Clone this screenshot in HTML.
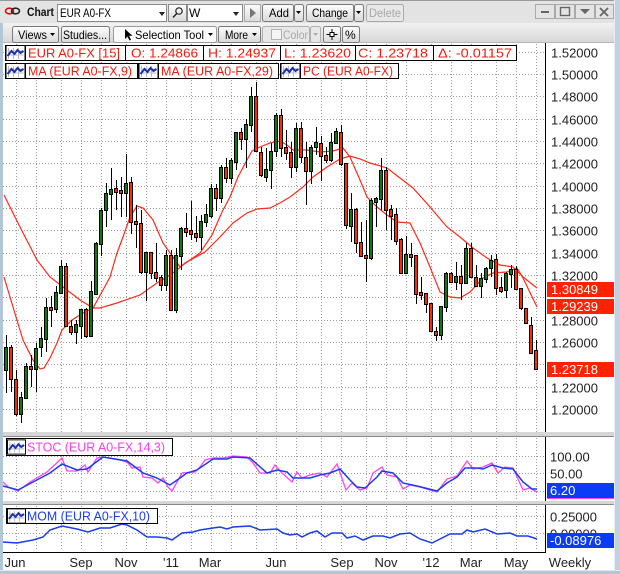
<!DOCTYPE html>
<html><head><meta charset="utf-8"><style>
html,body{margin:0;padding:0;background:#fff;}
svg{display:block;font-family:"Liberation Sans",sans-serif;}
</style></head><body>
<svg width="620" height="574" viewBox="0 0 620 574" xmlns="http://www.w3.org/2000/svg">
<defs>
<linearGradient id="btn" x1="0" y1="0" x2="0" y2="1"><stop offset="0" stop-color="#fdfdfd"/><stop offset="1" stop-color="#d9d9d9"/></linearGradient>
<linearGradient id="tb2" x1="0" y1="0" x2="0" y2="1"><stop offset="0" stop-color="#f2f2f2"/><stop offset="1" stop-color="#d6d6d6"/></linearGradient>
<symbol id="ico" viewBox="0 0 20 16"><rect x="0.5" y="0.5" width="19" height="15" fill="#fff" stroke="#000"/><path d="M3 3V14M8 3V14M13 3V14M2 6H18M2 10H18" stroke="#bbb" stroke-width="1"/><path d="M2 11L6 6L9 9L12 5L15 8L18 6" fill="none" stroke="#1a2fb0" stroke-width="2"/></symbol>
</defs>
<!-- window background -->
<rect x="0" y="0" width="620" height="574" fill="#fff"/>
<rect x="0" y="0" width="620" height="23" fill="#e3e3e3"/>
<rect x="0" y="23" width="620" height="20" fill="url(#tb2)"/>
<line x1="0" y1="0.5" x2="620" y2="0.5" stroke="#9a9a9a"/>
<line x1="0" y1="42.5" x2="620" y2="42.5" stroke="#b8b8b8"/>
<!-- toolbar row 1 -->
<g>
<ellipse cx="9.5" cy="11" rx="4" ry="2.8" fill="none" stroke="#d01010" stroke-width="1.6"/>
<ellipse cx="15.5" cy="11" rx="4" ry="2.8" fill="none" stroke="#222" stroke-width="1.6"/>
<text x="27" y="16" font-size="12" font-weight="bold" fill="#111" textLength="27" lengthAdjust="spacingAndGlyphs">Chart</text>
<rect x="57.5" y="4.5" width="109" height="17" fill="#fff" stroke="#8a8a8a"/>
<text x="60" y="17" font-size="12" fill="#000" textLength="51" lengthAdjust="spacingAndGlyphs">EUR A0-FX</text>
<path d="M159 12h6l-3 4z" fill="#222"/>
<rect x="168.5" y="4.5" width="18" height="17" fill="url(#btn)" stroke="#8a8a8a"/>
<circle cx="179" cy="11" r="3.2" fill="none" stroke="#222" stroke-width="1.2"/><line x1="176.7" y1="13.5" x2="173" y2="17.5" stroke="#222" stroke-width="1.4"/>
<rect x="187.5" y="4.5" width="55" height="17" fill="#fff" stroke="#8a8a8a"/>
<text x="189" y="17" font-size="12" fill="#000">W</text>
<path d="M233 12h6l-3 4z" fill="#222"/>
<rect x="244.5" y="4.5" width="16" height="17" fill="url(#btn)" stroke="#aaa"/>
<path d="M250 8v10l6-5z" fill="#777"/>
<rect x="262.5" y="4.5" width="31" height="17" rx="2" fill="url(#btn)" stroke="#7a7a7a"/>
<text x="269" y="17" font-size="12" fill="#000" textLength="20" lengthAdjust="spacingAndGlyphs">Add</text>
<rect x="294.5" y="4.5" width="9" height="17" rx="2" fill="url(#btn)" stroke="#7a7a7a"/>
<path d="M296 11h5l-2.5 3z" fill="#000"/>
<rect x="306.5" y="4.5" width="47" height="17" rx="2" fill="url(#btn)" stroke="#7a7a7a"/>
<text x="312" y="17" font-size="12" fill="#000" textLength="36" lengthAdjust="spacingAndGlyphs">Change</text>
<rect x="354.5" y="4.5" width="9" height="17" rx="2" fill="url(#btn)" stroke="#7a7a7a"/>
<path d="M356 11h5l-2.5 3z" fill="#000"/>
<rect x="366.5" y="4.5" width="37" height="17" rx="2" fill="#e8e8e8" stroke="#aaa"/>
<text x="369" y="17" font-size="12" fill="#a8a8a8" textLength="32" lengthAdjust="spacingAndGlyphs">Delete</text>
<rect x="535.5" y="4.5" width="19" height="14" fill="#e4e4e4" stroke="#aaa"/><rect x="541" y="11" width="8" height="2" fill="#666"/>
<rect x="555.5" y="4.5" width="19" height="14" fill="#e4e4e4" stroke="#aaa"/><rect x="560.5" y="7.5" width="9" height="8" fill="none" stroke="#666" stroke-width="1.4"/>
<rect x="575.5" y="4.5" width="19" height="14" fill="#e4e4e4" stroke="#aaa"/><path d="M580 9h10l-5 5z" fill="#666"/>
<rect x="595.5" y="4.5" width="18" height="14" fill="#e4e4e4" stroke="#aaa"/><path d="M600 8l8 8M608 8l-8 8" stroke="#666" stroke-width="1.8"/>
</g>
<!-- toolbar row 2 -->
<g font-size="12">
<rect x="12.5" y="26.5" width="46" height="16" rx="2" fill="url(#btn)" stroke="#7a7a7a"/>
<text x="18" y="39" fill="#000" textLength="29" lengthAdjust="spacingAndGlyphs">Views</text><path d="M50 33h5l-2.5 3z" fill="#000"/>
<rect x="61.5" y="26.5" width="48" height="16" rx="2" fill="url(#btn)" stroke="#7a7a7a"/>
<text x="63" y="39" fill="#000" textLength="44" lengthAdjust="spacingAndGlyphs">Studies...</text>
<rect x="113.5" y="26.5" width="103" height="16" rx="2" fill="#fafafa" stroke="#9a9a9a"/>
<path d="M125 29v10l2.5-2.5 2 4 1.5-.7-2-4h3.5z" fill="#000"/>
<text x="135" y="39" fill="#000" textLength="69" lengthAdjust="spacingAndGlyphs">Selection Tool</text><path d="M208 33h5l-2.5 3z" fill="#000"/>
<rect x="218.5" y="26.5" width="42" height="16" rx="2" fill="url(#btn)" stroke="#7a7a7a"/>
<text x="225" y="39" fill="#000" textLength="23" lengthAdjust="spacingAndGlyphs">More</text><path d="M252 33h5l-2.5 3z" fill="#000"/>
<rect x="262.5" y="26.5" width="47" height="16" rx="2" fill="#e8e8e8" stroke="#b0b0b0"/>
<rect x="271.5" y="29.5" width="10" height="10" fill="#f4f4f4" stroke="#b0b0b0"/>
<text x="283" y="39" fill="#a8a8a8" textLength="25" lengthAdjust="spacingAndGlyphs">Color</text>
<rect x="310.5" y="26.5" width="10" height="16" rx="2" fill="#e8e8e8" stroke="#b0b0b0"/><path d="M313 33h5l-2.5 3z" fill="#aaa"/>
<rect x="323.5" y="26.5" width="17" height="16" rx="2" fill="url(#btn)" stroke="#7a7a7a"/>
<path d="M332 29v11M326.5 34.5h11" stroke="#000" stroke-width="1"/><rect x="330" y="32.5" width="4" height="4" fill="#fff" stroke="#000"/>
<rect x="342.5" y="26.5" width="17" height="16" rx="2" fill="url(#btn)" stroke="#7a7a7a"/>
<text x="345" y="39" fill="#000">%</text>
</g>
<!-- main chart gridlines -->
<g stroke="#9c9c9c" stroke-width="1" stroke-dasharray="1 2" fill="none">
<path d="M3 409.5H545M3 387.5H545M3 364.5H545M3 342.5H545M3 320.5H545M3 297.5H545M3 275.5H545M3 253.5H545M3 230.5H545M3 208.5H545M3 186.5H545M3 163.5H545M3 141.5H545M3 119.5H545M3 96.5H545M3 74.5H545M3 52.5H545"/>
<path d="M16.5 44V432M36.5 44V432M61.5 44V432M81.5 44V432M101.5 44V432M126.5 44V432M146.5 44V432M166.5 44V432M191.5 44V432M211.5 44V432M231.5 44V432M256.5 44V432M276.5 44V432M296.5 44V432M321.5 44V432M341.5 44V432M366.5 44V432M386.5 44V432M406.5 44V432M431.5 44V432M451.5 44V432M471.5 44V432M496.5 44V432M516.5 44V432M536.5 44V432"/>
<path d="M3 456.5H545M3 473.5H545M3 491.5H545M3 516.5H545M3 533.5H545"/>
<path d="M16.5 438V502M36.5 438V502M61.5 438V502M81.5 438V502M101.5 438V502M126.5 438V502M146.5 438V502M166.5 438V502M191.5 438V502M211.5 438V502M231.5 438V502M256.5 438V502M276.5 438V502M296.5 438V502M321.5 438V502M341.5 438V502M366.5 438V502M386.5 438V502M406.5 438V502M431.5 438V502M451.5 438V502M471.5 438V502M496.5 438V502M516.5 438V502M536.5 438V502"/>
<path d="M16.5 506V551M36.5 506V551M61.5 506V551M81.5 506V551M101.5 506V551M126.5 506V551M146.5 506V551M166.5 506V551M191.5 506V551M211.5 506V551M231.5 506V551M256.5 506V551M276.5 506V551M296.5 506V551M321.5 506V551M341.5 506V551M366.5 506V551M386.5 506V551M406.5 506V551M431.5 506V551M451.5 506V551M471.5 506V551M496.5 506V551M516.5 506V551M536.5 506V551"/>
</g>
<!-- MA lines -->
<polyline fill="none" stroke="#ff2a1a" stroke-width="1.2" points="4,195 20,227 37,260 50,277 67,290 80,300 93,308 100,308 117,303 140,295 157,283 167,277 177,270 185,263 205,252 220,237 233,223 247,213 257,209 270,208 280,203 290,197 303,187 313,177 327,167 340,159 350,156 360,159 370,163 387,168 400,178 413,188 430,207 447,227 460,237 473,248 487,258 500,265 513,267 523,277 537,288"/>
<polyline fill="none" stroke="#ff2a1a" stroke-width="1.2" points="4,277 13,307 23,340 33,360 40,369 44,368 50,358 57,343 62,330 72,320 83,313 93,308 103,290 110,277 117,253 123,237 130,217 137,206 143,208 153,220 163,243 173,257 180,267 200,253 212,235 222,212 230,197 238,177 247,160 252,151 260,147 270,143 280,141 287,145 293,150 307,150 320,152 333,151 343,148 350,157 360,180 367,197 377,207 387,215 397,222 410,223 420,243 430,267 440,292 450,297 460,298 470,292 483,278 493,273 507,272 517,268 523,278 537,307"/>
<!-- wicks -->
<path stroke="#000" stroke-width="1" fill="none" d="M6.5 335V393M11.5 345V392M16.5 370V416M21.5 392V423M26.5 363V398M31.5 355V387M36.5 343V392M41.5 327V357M46.5 298V352M51.5 296V327M56.5 286V313M61.5 260V293M66.5 263V327M71.5 320V335M76.5 320V344M81.5 309V339M86.5 308V338M91.5 281V336M96.5 242V294M101.5 208V256M106.5 183V227M111.5 168V220M116.5 180V210M121.5 177V217M126.5 154V217M131.5 177V234M136.5 205V248M141.5 210V274M146.5 252V301M151.5 252V279M156.5 243V282M161.5 275V291M166.5 250V291M171.5 250V310M176.5 248V313M181.5 227V270M186.5 213V237M191.5 201V240M196.5 216V242M201.5 215V250M206.5 204V227M211.5 184V218M216.5 184V211M221.5 165V203M226.5 158V183M231.5 158V184M236.5 132V170M241.5 128V150M246.5 119V168M251.5 87V132M256.5 82V152M261.5 147V177M266.5 148V182M271.5 143V189M276.5 113V157M281.5 109V157M286.5 130V160M291.5 142V178M296.5 123V172M301.5 122V163M306.5 142V205M311.5 145V184M316.5 127V155M321.5 136V181M326.5 147V163M331.5 133V162M336.5 128V144M341.5 125V166M346.5 163V229M351.5 193V242M356.5 208V253M361.5 222V257M366.5 220V282M371.5 198V260M376.5 197V227M381.5 158V210M386.5 167V230M391.5 205V240M396.5 208V245M401.5 238V274M406.5 236V273M411.5 243V267M416.5 255V304M421.5 277V300M426.5 293V313M431.5 303V332M436.5 327V341M441.5 306V340M446.5 272V312M451.5 272V283M456.5 262V290M461.5 265V300M466.5 243V283M471.5 243V278M476.5 265V287M481.5 273V298M486.5 267V283M491.5 255V277M496.5 254V295M501.5 277V293M506.5 272V298M511.5 265V288M516.5 266V290M521.5 288V310M526.5 308V324M531.5 317V354M536.5 340V370"/>
<!-- green bodies -->
<g fill="#0c7c0c" stroke="#000" stroke-width="1">
<rect x="4.5" y="347.5" width="3" height="23"/>
<rect x="19.5" y="397.5" width="3" height="17"/>
<rect x="24.5" y="366.5" width="3" height="32"/>
<rect x="34.5" y="348.5" width="3" height="21"/>
<rect x="39.5" y="338.5" width="3" height="9"/>
<rect x="44.5" y="307.5" width="3" height="32"/>
<rect x="54.5" y="292.5" width="3" height="17"/>
<rect x="59.5" y="266.5" width="3" height="27"/>
<rect x="74.5" y="324.5" width="3" height="8"/>
<rect x="79.5" y="309.5" width="3" height="17"/>
<rect x="89.5" y="291.5" width="3" height="45"/>
<rect x="94.5" y="243.5" width="3" height="51"/>
<rect x="99.5" y="210.5" width="3" height="34"/>
<rect x="104.5" y="193.5" width="3" height="17"/>
<rect x="109.5" y="189.5" width="3" height="5"/>
<rect x="124.5" y="183.5" width="3" height="10"/>
<rect x="144.5" y="252.5" width="3" height="20"/>
<rect x="164.5" y="255.5" width="3" height="30"/>
<rect x="174.5" y="255.5" width="3" height="55"/>
<rect x="179.5" y="228.5" width="3" height="28"/>
<rect x="199.5" y="221.5" width="3" height="16"/>
<rect x="204.5" y="214.5" width="3" height="8"/>
<rect x="209.5" y="188.5" width="3" height="28"/>
<rect x="219.5" y="167.5" width="3" height="31"/>
<rect x="229.5" y="160.5" width="3" height="18"/>
<rect x="234.5" y="132.5" width="3" height="30"/>
<rect x="244.5" y="124.5" width="3" height="15"/>
<rect x="249.5" y="96.5" width="3" height="29"/>
<rect x="264.5" y="169.5" width="3" height="8"/>
<rect x="269.5" y="151.5" width="3" height="19"/>
<rect x="274.5" y="115.5" width="3" height="36"/>
<rect x="294.5" y="128.5" width="3" height="39"/>
<rect x="309.5" y="147.5" width="3" height="24"/>
<rect x="314.5" y="142.5" width="3" height="5"/>
<rect x="329.5" y="142.5" width="3" height="18"/>
<rect x="334.5" y="131.5" width="3" height="12"/>
<rect x="349.5" y="209.5" width="3" height="17"/>
<rect x="369.5" y="200.5" width="3" height="58"/>
<rect x="374.5" y="198.5" width="3" height="4"/>
<rect x="379.5" y="170.5" width="3" height="29"/>
<rect x="404.5" y="254.5" width="3" height="19"/>
<rect x="439.5" y="306.5" width="3" height="29"/>
<rect x="444.5" y="273.5" width="3" height="34"/>
<rect x="454.5" y="276.5" width="3" height="6"/>
<rect x="464.5" y="248.5" width="3" height="35"/>
<rect x="479.5" y="278.5" width="3" height="8"/>
<rect x="484.5" y="268.5" width="3" height="11"/>
<rect x="489.5" y="260.5" width="3" height="8"/>
<rect x="504.5" y="273.5" width="3" height="17"/>
<rect x="509.5" y="269.5" width="3" height="5"/>
</g>
<!-- red bodies -->
<g fill="#ff2a00" stroke="#000" stroke-width="1">
<rect x="9.5" y="347.5" width="3" height="32"/>
<rect x="14.5" y="379.5" width="3" height="35"/>
<rect x="29.5" y="366.5" width="3" height="3"/>
<rect x="49.5" y="307.5" width="3" height="3"/>
<rect x="64.5" y="266.5" width="3" height="60"/>
<rect x="69.5" y="326.5" width="3" height="6"/>
<rect x="84.5" y="309.5" width="3" height="27"/>
<rect x="114.5" y="188.5" width="3" height="4"/>
<rect x="119.5" y="190.5" width="3" height="3"/>
<rect x="129.5" y="182.5" width="3" height="40"/>
<rect x="134.5" y="221.5" width="3" height="3"/>
<rect x="139.5" y="223.5" width="3" height="49"/>
<rect x="149.5" y="252.5" width="3" height="21"/>
<rect x="154.5" y="272.5" width="3" height="6"/>
<rect x="159.5" y="277.5" width="3" height="8"/>
<rect x="169.5" y="255.5" width="3" height="55"/>
<rect x="184.5" y="228.5" width="3" height="4"/>
<rect x="189.5" y="230.5" width="3" height="4"/>
<rect x="194.5" y="233.5" width="3" height="4"/>
<rect x="214.5" y="188.5" width="3" height="10"/>
<rect x="224.5" y="167.5" width="3" height="11"/>
<rect x="239.5" y="132.5" width="3" height="7"/>
<rect x="254.5" y="96.5" width="3" height="55"/>
<rect x="259.5" y="152.5" width="3" height="23"/>
<rect x="279.5" y="115.5" width="3" height="33"/>
<rect x="284.5" y="147.5" width="3" height="6"/>
<rect x="289.5" y="152.5" width="3" height="15"/>
<rect x="299.5" y="128.5" width="3" height="29"/>
<rect x="304.5" y="157.5" width="3" height="14"/>
<rect x="319.5" y="143.5" width="3" height="13"/>
<rect x="324.5" y="155.5" width="3" height="5"/>
<rect x="339.5" y="132.5" width="3" height="32"/>
<rect x="344.5" y="163.5" width="3" height="62"/>
<rect x="354.5" y="209.5" width="3" height="34"/>
<rect x="359.5" y="242.5" width="3" height="14"/>
<rect x="364.5" y="255.5" width="3" height="3"/>
<rect x="384.5" y="170.5" width="3" height="40"/>
<rect x="389.5" y="209.5" width="3" height="7"/>
<rect x="394.5" y="214.5" width="3" height="27"/>
<rect x="399.5" y="239.5" width="3" height="34"/>
<rect x="409.5" y="254.5" width="3" height="3"/>
<rect x="414.5" y="255.5" width="3" height="39"/>
<rect x="419.5" y="292.5" width="3" height="3"/>
<rect x="424.5" y="293.5" width="3" height="11"/>
<rect x="429.5" y="303.5" width="3" height="28"/>
<rect x="434.5" y="331.5" width="3" height="4"/>
<rect x="449.5" y="273.5" width="3" height="9"/>
<rect x="459.5" y="276.5" width="3" height="7"/>
<rect x="469.5" y="248.5" width="3" height="29"/>
<rect x="474.5" y="277.5" width="3" height="9"/>
<rect x="494.5" y="259.5" width="3" height="29"/>
<rect x="499.5" y="287.5" width="3" height="4"/>
<rect x="514.5" y="269.5" width="3" height="20"/>
<rect x="519.5" y="288.5" width="3" height="20"/>
<rect x="524.5" y="308.5" width="3" height="15"/>
<rect x="529.5" y="325.5" width="3" height="28"/>
<rect x="534.5" y="350.5" width="3" height="19"/>
</g>
<!-- legend main -->
<g font-size="13" fill="#f01c10">
<rect x="5.5" y="45.5" width="511" height="15" fill="#fff" stroke="#000"/>
<path d="M25.5 45V61M125.5 45V61M203.5 45V61M280.5 45V61M355.5 45V61M433.5 45V61" stroke="#000"/>
<use href="#ico" x="5" y="45" width="21" height="16"/>
<text x="28" y="57.5" textLength="92" lengthAdjust="spacingAndGlyphs">EUR A0-FX [15]</text>
<text x="131" y="57.5" textLength="67" lengthAdjust="spacingAndGlyphs">O: 1.24866</text>
<text x="208" y="57.5" textLength="68" lengthAdjust="spacingAndGlyphs">H: 1.24937</text>
<text x="284" y="57.5" textLength="67" lengthAdjust="spacingAndGlyphs">L: 1.23620</text>
<text x="358" y="57.5" textLength="70" lengthAdjust="spacingAndGlyphs">C: 1.23718</text>
<text x="438" y="57.5" textLength="74" lengthAdjust="spacingAndGlyphs">Δ: -0.01157</text>
<rect x="5.5" y="63.5" width="132" height="15" fill="#fff" stroke="#000"/>
<use href="#ico" x="5" y="63" width="21" height="16"/>
<line x1="25.5" y1="63" x2="25.5" y2="79" stroke="#000"/>
<text x="28" y="75.5" textLength="104" lengthAdjust="spacingAndGlyphs">MA (EUR A0-FX,9)</text>
<rect x="138.5" y="63.5" width="140" height="15" fill="#fff" stroke="#000"/>
<use href="#ico" x="138" y="63" width="21" height="16"/>
<line x1="158.5" y1="63" x2="158.5" y2="79" stroke="#000"/>
<text x="161" y="75.5" textLength="112" lengthAdjust="spacingAndGlyphs">MA (EUR A0-FX,29)</text>
<rect x="280.5" y="63.5" width="118" height="15" fill="#fff" stroke="#000"/>
<use href="#ico" x="280" y="63" width="21" height="16"/>
<line x1="300.5" y1="63" x2="300.5" y2="79" stroke="#000"/>
<text x="303" y="75.5" textLength="90" lengthAdjust="spacingAndGlyphs">PC (EUR A0-FX)</text>
</g>
<!-- right axis -->
<line x1="545.5" y1="43" x2="545.5" y2="432" stroke="#000"/>
<g font-size="13" fill="#222">
<text x="551" y="57.5">1.52000</text>
<text x="551" y="79.5">1.50000</text>
<text x="551" y="101.5">1.48000</text>
<text x="551" y="124.5">1.46000</text>
<text x="551" y="146.5">1.44000</text>
<text x="551" y="168.5">1.42000</text>
<text x="551" y="191.5">1.40000</text>
<text x="551" y="213.5">1.38000</text>
<text x="551" y="235.5">1.36000</text>
<text x="551" y="258.5">1.34000</text>
<text x="551" y="280.5">1.32000</text>
<text x="551" y="325.5">1.28000</text>
<text x="551" y="347.5">1.26000</text>
<text x="551" y="392.5">1.22000</text>
<text x="551" y="414.5">1.20000</text>
</g>
<g font-size="13" fill="#fff">
<rect x="547" y="282" width="67" height="15" fill="#ff2200"/>
<text x="551" y="294">1.30849</text>
<rect x="547" y="299" width="67" height="15" fill="#ff2200"/>
<text x="551" y="311">1.29239</text>
<rect x="547" y="362" width="67" height="15" fill="#ff2200"/>
<text x="551" y="374">1.23718</text>
</g>
<!-- separators -->
<rect x="3" y="432" width="611" height="4" fill="#d6d6d6"/>
<line x1="3" y1="436.5" x2="614" y2="436.5" stroke="#8a8a8a"/>
<rect x="3" y="501" width="611" height="3" fill="#d6d6d6"/>
<line x1="3" y1="504.5" x2="614" y2="504.5" stroke="#8a8a8a"/>
<line x1="545.5" y1="437" x2="545.5" y2="501" stroke="#000"/>
<line x1="545.5" y1="505" x2="545.5" y2="552" stroke="#000"/>
<line x1="3" y1="552.5" x2="546" y2="552.5" stroke="#000"/>
<!-- STOC -->
<polyline fill="none" stroke="#ff44ee" stroke-width="1.3" points="3,482 8,487 18,491 30,482 47,472 62,458 67,471 77,471 85,465 88,472 97,458 103,457 120,460 127,462 132,468 140,467 143,477 152,478 158,483 163,478 168,487 172,491 177,482 182,473 195,472 200,467 205,460 213,458 223,458 233,456 247,457 253,463 260,473 270,473 275,465 282,473 292,482 297,472 302,478 310,475 320,473 327,477 337,464 346,490 352,483 360,490 367,488 373,473 382,467 387,475 397,477 403,489 410,485 420,487 437,492 447,479 457,476 467,461 473,469 483,467 492,463 498,473 505,467 513,468 523,490 530,488 537,492"/>
<polyline fill="none" stroke="#1a3cf0" stroke-width="1.5" points="3,486 18,490 33,482 50,473 62,464 77,470 87,469 103,457 127,461 143,473 157,478 170,485 187,473 197,470 213,459 227,459 233,457 250,458 267,473 277,470 287,472 293,478 310,478 320,475 330,473 340,469 350,480 357,487 365,488 377,477 382,471 393,473 403,483 417,486 437,491 447,483 457,477 465,468 477,468 483,469 492,465 503,468 513,469 523,482 532,489 537,489"/>
<rect x="6.5" y="438.5" width="166" height="17" fill="#fff" stroke="#000"/>
<use href="#ico" x="7" y="439" width="19" height="16"/>
<text x="27" y="451.5" font-size="13" fill="#ff3cf0" textLength="138" lengthAdjust="spacingAndGlyphs">STOC (EUR A0-FX,14,3)</text>
<g font-size="13" fill="#222">
<text x="550" y="461.5">100.00</text>
<text x="550" y="478.5">50.00</text>
</g>
<rect x="547" y="483" width="67" height="15" fill="#0a3cf5"/>
<line x1="547" y1="498.5" x2="614" y2="498.5" stroke="#ff44ee"/>
<text x="550" y="495" font-size="13" fill="#fff">6.20</text>
<!-- MOM -->
<polyline fill="none" stroke="#1a3cf0" stroke-width="1.5" points="3,542 17,543 33,540 43,537 50,530 62,526 77,529 88,532 100,528 110,528 122,524 127,525 137,530 147,537 157,537 167,538 172,540 182,533 193,532 200,530 213,528 220,527 227,529 233,527 250,526 260,530 277,529 283,533 290,535 297,534 302,537 310,533 317,531 325,537 332,533 342,533 347,538 355,536 363,540 373,536 383,536 390,538 400,534 410,533 420,539 432,543 440,539 450,534 462,534 467,530 473,532 485,529 497,534 510,533 517,536 528,536 537,539"/>
<rect x="6.5" y="508.5" width="151" height="15" fill="#fff" stroke="#000"/>
<use href="#ico" x="7" y="508" width="19" height="16"/>
<text x="27" y="520.5" font-size="13" fill="#1a3cf0" textLength="123" lengthAdjust="spacingAndGlyphs">MOM (EUR A0-FX,10)</text>
<g font-size="13" fill="#222">
<text x="550" y="521.5">0.25000</text>
<text x="550" y="538.5">0.00000</text>
</g>
<rect x="547" y="533" width="67" height="15" fill="#0a3cf5"/>
<text x="550" y="545" font-size="13" fill="#fff">-0.08976</text>
<!-- x axis labels -->
<g font-size="13" fill="#222" text-anchor="middle">
<text x="15" y="567">Jun</text>
<text x="81" y="567">Sep</text>
<text x="126" y="567">Nov</text>
<text x="171" y="567">'11</text>
<text x="210" y="567">Mar</text>
<text x="276" y="567">Jun</text>
<text x="342" y="567">Sep</text>
<text x="386" y="567">Nov</text>
<text x="431" y="567">'12</text>
<text x="471" y="567">Mar</text>
<text x="516" y="567">May</text>
<text x="570" y="567">Weekly</text>
</g>
<!-- window borders -->
<rect x="0" y="23" width="3" height="551" fill="#b4c5d8"/>
<rect x="614" y="0" width="6" height="574" fill="#c2d1e2"/>
<line x1="614.5" y1="0" x2="614.5" y2="574" stroke="#e6edf5"/>
<rect x="0" y="570" width="620" height="4" fill="#b4c5d8"/>
<line x1="0" y1="570.5" x2="620" y2="570.5" stroke="#dfe7f0"/>
</svg>
</body></html>
